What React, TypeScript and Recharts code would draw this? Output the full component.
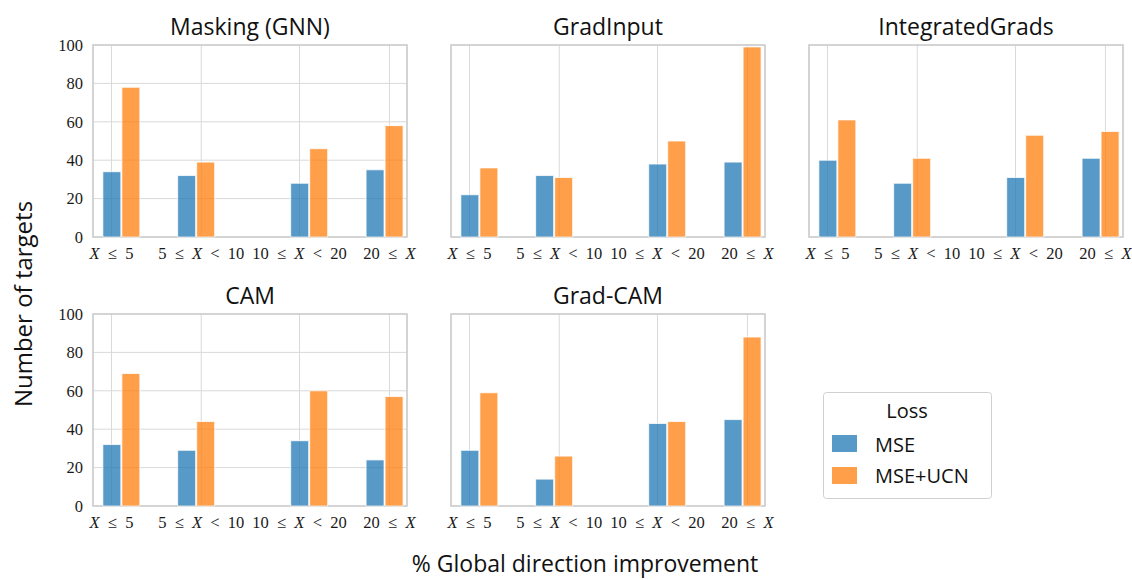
import React from "react";
import { BarChart, Bar, XAxis, YAxis, CartesianGrid, ReferenceArea } from "recharts";

// bin labels and where they sit on the (numeric) x axis
const bins = ["X ≤ 5", "5 ≤ X < 10", "10 ≤ X < 20", "20 ≤ X"];
const binCenters = [1.53, 5.58, 11.7, 15.78];
const tickAt = [1.0, 5.86, 11.18, 16.05];
const yTicks = [0, 20, 40, 60, 80, 100];

const maskingMse = [34, 32, 28, 35];
const maskingUcn = [78, 39, 46, 58];
const gradInputMse = [22, 32, 38, 39];
const gradInputUcn = [36, 31, 50, 99];
const intGradsMse = [40, 28, 31, 41];
const intGradsUcn = [61, 41, 53, 55];
const camMse = [32, 29, 34, 24];
const camUcn = [69, 44, 60, 57];
const gradCamMse = [29, 14, 43, 45];
const gradCamUcn = [59, 26, 44, 88];

const BLUE = "#1f77b4";
const ORANGE = "#ff7f0e";
const SANS = "'Open Sans', sans-serif";
const SERIF = "'Liberation Serif', serif";

const PLOT_W = 314;
const PLOT_H = 192;
const Y_W = 50;

function BinTick(props: any) {
  const { x, y, payload } = props;
  const i = tickAt.indexOf(payload.value);
  const label = (bins[i] ?? "").replace(/ /g, "\u2002");
  const [a, b] = label.split("X");
  return (
    <text x={x} y={y} dy="0.71em" textAnchor="middle" fontFamily={SERIF} fontSize={16.5} fill="#1a1a1a">
      {a}
      <tspan fontStyle="italic">X</tspan>
      {b}
    </text>
  );
}

function Panel({
  left,
  top,
  mse,
  ucn,
  showY,
}: {
  left: number;
  top: number;
  mse: number[];
  ucn: number[];
  showY: boolean;
}) {
  const data = binCenters.map((x, i) => ({ x, mse: mse[i], ucn: ucn[i] }));
  return (
    <div style={{ position: "absolute", left: left - Y_W, top: top - 10 }}>
      <BarChart
        width={Y_W + PLOT_W + 10}
        height={10 + PLOT_H + 35}
        data={data}
        margin={{ top: 10, right: 10, left: 0, bottom: 0 }}
        barGap={1}
      >
        <CartesianGrid stroke="#d9d9d9" strokeWidth={1} />
        <XAxis
          dataKey="x"
          type="number"
          domain={[0, 17]}
          ticks={tickAt}
          interval={0}
          allowDataOverflow
          axisLine={false}
          tickLine={false}
          tickSize={0}
          tickMargin={10}
          height={35}
          tick={<BinTick />}
        />
        <YAxis
          domain={[0, 100]}
          ticks={yTicks}
          interval={0}
          axisLine={false}
          tickLine={false}
          tickSize={0}
          tickMargin={10}
          width={Y_W}
          tick={showY ? { fontFamily: SERIF, fontSize: 16.5, fill: "#1a1a1a" } : false}
        />
        <Bar dataKey="mse" barSize={18} fill={BLUE} fillOpacity={0.75} stroke="#ffffff" strokeWidth={0.8} isAnimationActive={false} />
        <Bar dataKey="ucn" barSize={18} fill={ORANGE} fillOpacity={0.75} stroke="#ffffff" strokeWidth={0.8} isAnimationActive={false} />
        <ReferenceArea x1={0} x2={17} y1={0} y2={100} fill="none" stroke="#cccccc" strokeWidth={1.5} ifOverflow="visible" />
      </BarChart>
    </div>
  );
}

const panels = [
  { title: "Masking (GNN)", left: 93, top: 45, mse: maskingMse, ucn: maskingUcn, showY: true },
  { title: "GradInput", left: 451, top: 45, mse: gradInputMse, ucn: gradInputUcn, showY: false },
  { title: "IntegratedGrads", left: 809, top: 45, mse: intGradsMse, ucn: intGradsUcn, showY: false },
  { title: "CAM", left: 93, top: 314, mse: camMse, ucn: camUcn, showY: true },
  { title: "Grad-CAM", left: 451, top: 314, mse: gradCamMse, ucn: gradCamUcn, showY: false },
];

export default function App() {
  return (
    <div style={{ position: "absolute", left: 0, top: 0, width: 1132, height: 580, background: "#fff" }}>
      {panels.map((p) => (
        <Panel key={p.title} left={p.left} top={p.top} mse={p.mse} ucn={p.ucn} showY={p.showY} />
      ))}
      <svg width={1132} height={580} style={{ position: "absolute", left: 0, top: 0, pointerEvents: "none" }}>
        {panels.map((p) => (
          <text key={p.title} x={p.left + PLOT_W / 2} y={p.top - 10} textAnchor="middle" fontFamily={SANS} fontSize={23} fill="#111">
            {p.title}
          </text>
        ))}
        <text x={32} y={304} transform="rotate(-90 32 304)" textAnchor="middle" fontFamily={SANS} fontSize={24} fill="#111">
          Number of targets
        </text>
        <text x={585} y={572} textAnchor="middle" fontFamily={SANS} fontSize={23} fill="#111">
          % Global direction improvement
        </text>
        {/* legend */}
        <rect x={823.5} y={392.5} width={168} height={106} rx={3} fill="#fff" stroke="#d0d0d0" strokeWidth={1} />
        <text x={907} y={418} textAnchor="middle" fontFamily={SANS} fontSize={20} fill="#111">
          Loss
        </text>
        <rect x={832} y={435} width={25} height={17} fill={BLUE} fillOpacity={0.75} />
        <text x={875} y={452} fontFamily={SANS} fontSize={20} fill="#111">
          MSE
        </text>
        <rect x={832} y={467} width={25} height={17} fill={ORANGE} fillOpacity={0.75} />
        <text x={875} y={483} fontFamily={SANS} fontSize={20} fill="#111">
          MSE+UCN
        </text>
      </svg>
    </div>
  );
}
